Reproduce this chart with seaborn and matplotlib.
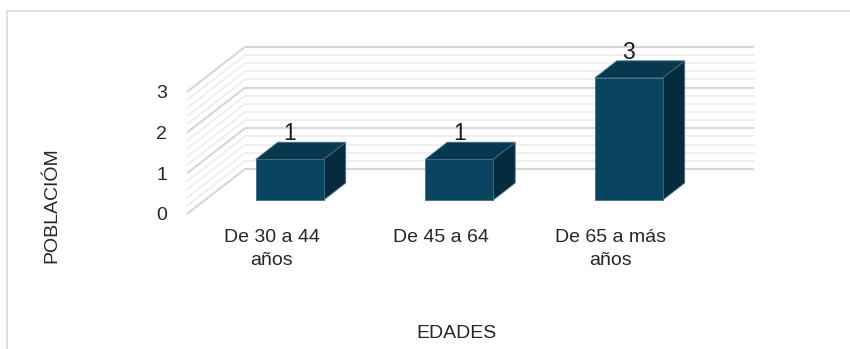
import numpy as np
import pandas as pd
import matplotlib
matplotlib.use("Agg")
import matplotlib.pyplot as plt
from matplotlib.patches import Polygon, Rectangle
import seaborn as sns

# Data
categorias = ["De 30 a 44\naños", "De 45 a 64", "De 65 a más\naños"]
poblacion = [1, 1, 3]
ticks_y = [0, 1, 2, 3]
paso_menor = 0.2

# Colours of the bar faces and the grid
C_FRONT = "#0a4560"
C_TOP = "#08384f"
C_SIDE = "#062b3c"
C_EDGE = "#3f6f86"
C_MAJOR = "#d6d6d6"
C_MINOR = "#ececec"

sns.set_theme(style="white")
plt.rcParams["font.family"] = ["Liberation Sans", "DejaVu Sans"]
plt.rcParams["text.color"] = "#1a1a1a"
FS = 14

W, H = 850, 349
fig = plt.figure(figsize=(W / 100, H / 100), dpi=100)

# plot area (front plane): left wall edge to the end of the back wall
left_px, right_px, base_px, top_px = 187, 754, 214, 41
ax = fig.add_axes([left_px / W, (H - base_px) / H,
                   (right_px - left_px) / W, (base_px - top_px) / H])

px_cat = 169.5   # pixels per category
px_val = 40.7    # pixels per unit on the value axis
xlim = (-0.5, -0.5 + (right_px - left_px) / px_cat)
ylim = (0, (base_px - top_px) / px_val)

# oblique depth vector of the 3-D box, in data units
DX = 58 / px_cat
DY = 45 / px_val
f0, f1 = 0.31, 0.69   # front / back depth of the bars

df = pd.DataFrame({"edad": categorias, "poblacion": poblacion})
sns.barplot(data=df, x="edad", y="poblacion", width=0.4, color=C_FRONT,
            saturation=1, ax=ax, zorder=6, edgecolor=C_EDGE, linewidth=0.6,
            errorbar=None)
ax.set_xlim(*xlim)
ax.set_ylim(*ylim)

# back wall and left wall grid
n = len(categorias)
x_front_l, x_front_r = -0.5, n - 0.5
vmax = max(ticks_y)
niveles = np.round(np.arange(0, vmax + 1e-9, paso_menor), 6)
for v in niveles:
    major = abs(v - round(v)) < 1e-6
    col = C_MAJOR if major else C_MINOR
    lw = 1.5 if major else 1.2
    z = 2 if major else 1
    ax.plot([x_front_l + DX, x_front_r + DX], [v + DY, v + DY],
            color=col, lw=lw, zorder=z, clip_on=False, solid_capstyle="butt")
    ax.plot([x_front_l, x_front_l + DX], [v, v + DY],
            color=col, lw=lw, zorder=z, clip_on=False, solid_capstyle="butt")

# extrude every bar into a box and label it
d = f1 - f0
for p, val in zip(ax.patches, poblacion):
    w = p.get_width()
    h = p.get_height()
    x0 = p.get_x() + f0 * DX
    y0 = f0 * DY
    p.set_x(x0)
    p.set_y(y0)
    top = [(x0, y0 + h), (x0 + w, y0 + h),
           (x0 + w + d * DX, y0 + h + d * DY), (x0 + d * DX, y0 + h + d * DY)]
    side = [(x0 + w, y0), (x0 + w + d * DX, y0 + d * DY),
            (x0 + w + d * DX, y0 + h + d * DY), (x0 + w, y0 + h)]
    ax.add_patch(Polygon(side, closed=True, facecolor=C_SIDE, edgecolor=C_EDGE,
                         lw=0.6, zorder=5))
    ax.add_patch(Polygon(top, closed=True, facecolor=C_TOP, edgecolor=C_EDGE,
                         lw=0.6, zorder=5))
    ax.annotate(f"{val:g}", (x0 + w / 2, y0 + h), xytext=(0, 18.5),
                textcoords="offset points", ha="center", va="center",
                fontsize=16.5,
                family=["Liberation Sans Narrow", "Liberation Sans"],
                zorder=8)

# axes, ticks and titles
for s in ax.spines.values():
    s.set_visible(False)
ax.set_yticks(ticks_y)
ax.set_yticklabels([str(t) for t in ticks_y])
ax.tick_params(axis="y", length=0, pad=14.4, labelsize=FS)
ax.tick_params(axis="x", length=0, pad=10.5, labelsize=FS)
for t in ax.get_xticklabels():
    t.set_linespacing(1.5)

ax.set_xlabel("EDADES", fontsize=FS, va="center")
ax.xaxis.set_label_coords((457 - left_px) / (right_px - left_px),
                          (base_px - 333) / (base_px - top_px))
ax.set_ylabel("POBLACIÓM", fontsize=FS, va="center")
ax.yaxis.set_label_coords((52 - left_px) / (right_px - left_px),
                          (base_px - 205) / (base_px - top_px))

# chart-area border
fig.add_artist(Rectangle((7 / W, -0.05), 1.0, (H - 11) / H + 0.05,
                         transform=fig.transFigure, fill=False,
                         edgecolor="#d9d9d9", lw=1.2))

fig.savefig("out.png", dpi=100)
